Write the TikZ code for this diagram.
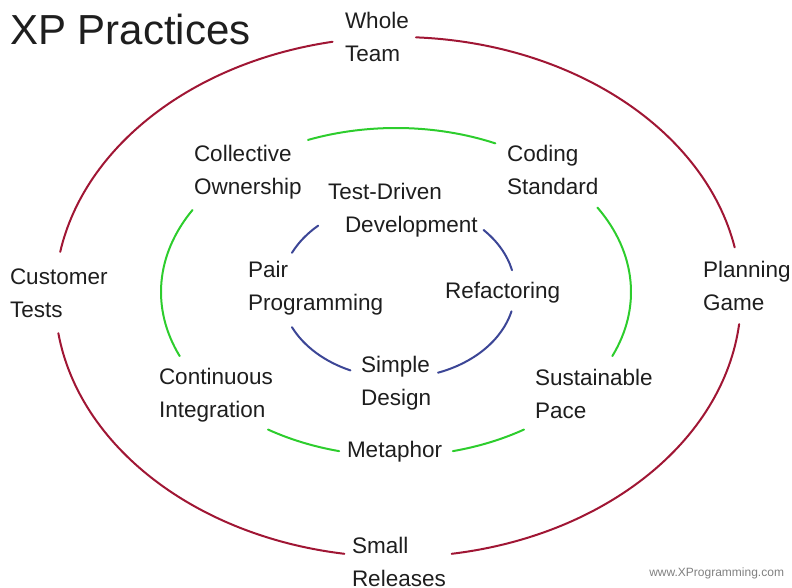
\documentclass[tikz,border=0pt]{standalone}
\usepackage{fontspec}
\setmainfont{Liberation Sans}
\definecolor{ringred}{RGB}{160,22,52}
\definecolor{ringgreen}{RGB}{45,205,45}
\definecolor{ringblue}{RGB}{60,70,150}
\definecolor{inkgray}{RGB}{30,30,30}
\begin{document}
\begin{tikzpicture}[x=1pt,y=-1pt,inner sep=0pt,outer sep=0pt,
practice/.style={anchor=base west,align=left,text=inkgray,font=\fontsize{22.5}{33}\selectfont},
ringline/.style={line width=2pt,line cap=round}]

\useasboundingbox (0,0) rectangle (792,588);

\node[anchor=base west,text=inkgray,font=\fontsize{42}{50}\selectfont] (title) at (10,45) {XP Practices};

% outer ring
\node[practice] (team) at (345,62) {Whole\\Team};
\node[practice] (tests) at (10,317) {Customer\\Tests};
\node[practice] (game) at (703,310) {Planning\\Game};
\node[practice] (releases) at (352,586) {Small\\Releases};

% middle ring
\node[practice] (ownership) at (194,195) {Collective\\Ownership};
\node[practice] (standard) at (507,195) {Coding\\Standard};
\node[practice] (integration) at (159,417) {Continuous\\Integration};
\node[practice] (pace) at (535,418) {Sustainable\\Pace};
\node[practice] (metaphor) at (347,457) {Metaphor};

% inner ring
\node[practice] (tdd) at (328,233) {Test-Driven\\\hspace*{17pt}Development};
\node[practice] (pair) at (248,310) {Pair\\Programming};
\node[practice] (refactoring) at (445,298) {Refactoring};
\node[practice] (design) at (361,405) {Simple\\Design};

\node[anchor=base east,text=gray,font=\fontsize{12}{14}\selectfont] (site) at (784,576) {www.XProgramming.com};

\coordinate (outer) at (398,297);
\coordinate (middle) at (396,292);
\coordinate (inner) at (398,290);

\foreach \from/\to in {-101/-170,-11/-87,-188/-261,-279/-354}
  \draw[ringline,ringred] (outer) ++(\from:343 and 260) arc[start angle=\from,end angle=\to,x radius=343,y radius=260];
\foreach \from/\to in {-65/-112,-150/-203,23/-31,-237/-256,-284/-303}
  \draw[ringline,ringgreen] (middle) ++(\from:235 and 164) arc[start angle=\from,end angle=\to,x radius=235,y radius=164];
\foreach \from/\to in {-133/-155,-13/-43,70/14,-205/-246}
  \draw[ringline,ringblue] (inner) ++(\from:117 and 88) arc[start angle=\from,end angle=\to,x radius=117,y radius=88];
\end{tikzpicture}
\end{document}
